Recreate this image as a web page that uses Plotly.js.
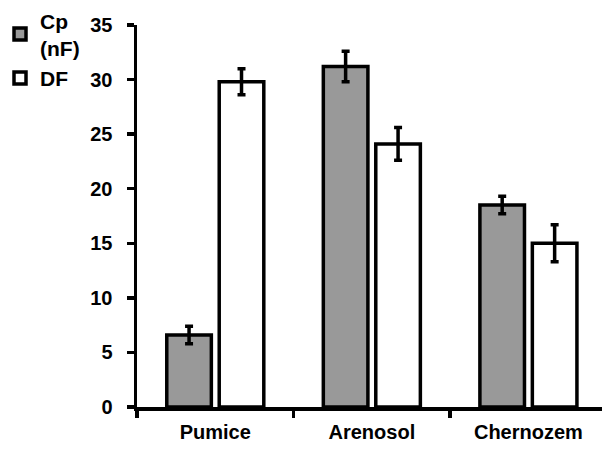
<!DOCTYPE html>
<html><head><meta charset="utf-8">
<script src="https://cdn.plot.ly/plotly-3.0.1.min.js"></script>
<style>body{margin:0;background:#fff}#chart{width:602px;height:449px}</style>
</head><body><div id="chart"></div>
<script>
const categories = ['Pumice', 'Arenosol', 'Chernozem'];
const cpValues = [6.6, 31.2, 18.5];
const cpErrors = [0.8, 1.4, 0.8];
const dfValues = [29.8, 24.1, 15.0];
const dfErrors = [1.2, 1.5, 1.7];
const seriesNames = ['Cp<br>(nF)', 'DF'];
const yTicks = [0, 5, 10, 15, 20, 25, 30, 35];

const fam = 'Liberation Sans, Arial, sans-serif';
const boldFont = {family: fam, size: 20, color: '#000', weight: 'bold'};

const traces = [
  {type: 'bar', name: seriesNames[0], x: categories, y: cpValues,
   marker: {color: '#999999', line: {color: '#000', width: 3.5}},
   error_y: {type: 'data', array: cpErrors, visible: true, color: '#000', thickness: 3.5, width: 4}},
  {type: 'bar', name: seriesNames[1], x: categories, y: dfValues,
   marker: {color: '#ffffff', line: {color: '#000', width: 3.5}},
   error_y: {type: 'data', array: dfErrors, visible: true, color: '#000', thickness: 3.5, width: 4}}
];

const layout = {
  width: 602, height: 449,
  margin: {l: 134, r: 0, t: 24, b: 42},
  paper_bgcolor: '#fff', plot_bgcolor: '#fff',
  font: {family: fam, size: 20, color: '#000'},
  barmode: 'group', bargap: 0.33, bargroupgap: 0.15,
  showlegend: true,
  legend: {x: -0.295, y: 1.065, xanchor: 'left', yanchor: 'top',
           font: {family: fam, size: 21, color: '#000', weight: 'bold'},
           bgcolor: 'rgba(0,0,0,0)', itemwidth: 30, tracegroupgap: 18},
  xaxis: {type: 'category', range: [-0.5, 2.47], showgrid: false, zeroline: false,
          showline: true, linecolor: '#000', linewidth: 3.5,
          ticks: 'outside', tickson: 'boundaries', ticklen: 7, tickwidth: 3.5, tickcolor: '#000',
          ticklabelstandoff: 4,
          tickfont: boldFont},
  yaxis: {range: [0, 35], tickvals: yTicks, showgrid: false, zeroline: false,
          showline: true, linecolor: '#000', linewidth: 3.5,
          ticks: 'outside', ticklen: 7, tickwidth: 3.5, tickcolor: '#000',
          ticklabelstandoff: 10,
          tickfont: boldFont}
};

Plotly.newPlot('chart', traces, layout, {displayModeBar: false, staticPlot: true});
</script></body></html>
